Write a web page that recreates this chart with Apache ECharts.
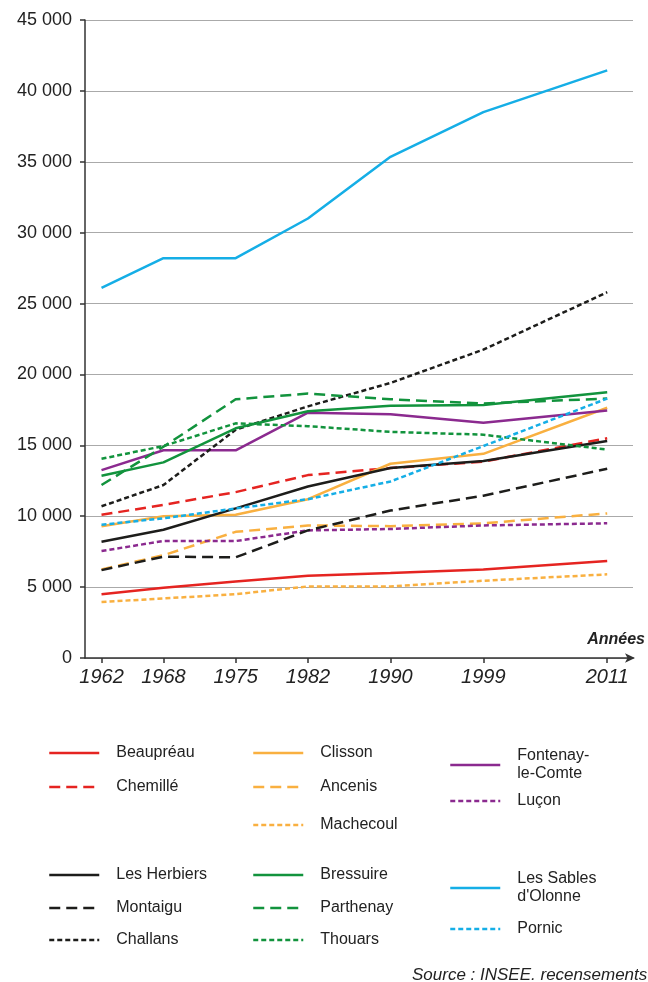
<!DOCTYPE html>
<html>
<head>
<meta charset="utf-8">
<script src="https://cdn.jsdelivr.net/npm/echarts@6/dist/echarts.min.js"></script>
<style>
html,body{margin:0;padding:0;background:#fff;}
#c{width:648px;height:982px;}
</style>
</head>
<body>
<div id="c"></div>
<script>
// ---- data ----
var years = [1962, 1968, 1975, 1982, 1990, 1999, 2011];
var yTicks = [0, 5000, 10000, 15000, 20000, 25000, 30000, 35000, 40000, 45000];

var beaupreau = [4500, 4950, 5400, 5800, 6000, 6250, 6850];
var chemille  = [10100, 10800, 11700, 12900, 13400, 13850, 15500];
var clisson   = [9300, 10000, 10100, 11200, 13700, 14400, 17650];
var ancenis   = [6250, 7250, 8900, 9350, 9300, 9500, 10200];
var machecoul = [3950, 4200, 4500, 5050, 5050, 5450, 5900];
var fontenay  = [13250, 14650, 14650, 17300, 17200, 16600, 17450];
var lucon     = [7550, 8250, 8250, 9000, 9100, 9350, 9500];
var herbiers  = [8200, 9050, 10550, 12100, 13400, 13900, 15300];
var montaigu  = [6200, 7150, 7100, 9000, 10400, 11450, 13350];
var challans  = [10700, 12200, 16100, 17750, 19400, 21750, 25800];
var bressuire = [12850, 13800, 16200, 17400, 17800, 17850, 18750];
var parthenay = [12200, 14900, 18250, 18650, 18250, 17950, 18300];
var thouars   = [14050, 14950, 16550, 16350, 15950, 15750, 14700];
var sables    = [26100, 28200, 28200, 31000, 35350, 38500, 41450];
var pornic    = [9400, 9850, 10550, 11200, 12450, 14950, 18300];

// ---- styles ----
var RED = '#e52421', ORANGE = '#f9b040', PURPLE = '#8b2a8f',
    BLACK = '#1d1d1b', GREEN = '#12933d', BLUE = '#15aee6';
var SOLID = 'solid', DASH = [11, 6], DOT = [5, 3];

var seriesDefs = [
  {name: 'Beaupréau', data: beaupreau, color: RED, type: SOLID, lx: 48, ly: 753},
  {name: 'Chemillé', data: chemille, color: RED, type: DASH, lx: 48, ly: 787},
  {name: 'Clisson', data: clisson, color: ORANGE, type: SOLID, lx: 252, ly: 753},
  {name: 'Ancenis', data: ancenis, color: ORANGE, type: DASH, lx: 252, ly: 787},
  {name: 'Machecoul', data: machecoul, color: ORANGE, type: DOT, lx: 252, ly: 825},
  {name: 'Fontenay-\nle-Comte', data: fontenay, color: PURPLE, type: SOLID, lx: 449, ly: 765},
  {name: 'Luçon', data: lucon, color: PURPLE, type: DOT, lx: 449, ly: 801},
  {name: 'Les Herbiers', data: herbiers, color: BLACK, type: SOLID, lx: 48, ly: 875},
  {name: 'Montaigu', data: montaigu, color: BLACK, type: DASH, lx: 48, ly: 908},
  {name: 'Challans', data: challans, color: BLACK, type: DOT, lx: 48, ly: 940},
  {name: 'Bressuire', data: bressuire, color: GREEN, type: SOLID, lx: 252, ly: 875},
  {name: 'Parthenay', data: parthenay, color: GREEN, type: DASH, lx: 252, ly: 908},
  {name: 'Thouars', data: thouars, color: GREEN, type: DOT, lx: 252, ly: 940},
  {name: 'Les Sables\nd\'Olonne', data: sables, color: BLUE, type: SOLID, lx: 449, ly: 888},
  {name: 'Pornic', data: pornic, color: BLUE, type: DOT, lx: 449, ly: 929}
];

var FONT = '"Liberation Sans", Arial, sans-serif';

var series = seriesDefs.map(function (d) {
  return {
    name: d.name,
    type: 'line',
    symbol: 'none',
    animation: false,
    data: years.map(function (y, i) { return [y, d.data[i]]; }),
    lineStyle: {color: d.color, width: 2.5, type: d.type},
    itemStyle: {color: d.color}
  };
});

var legends = seriesDefs.map(function (d) {
  var twoLines = d.name.indexOf('\n') >= 0;
  return {
    data: [{name: d.name}],
    left: d.lx,
    top: d.ly - (twoLines ? 18 : 9),
    orient: 'vertical',
    padding: 0,
    itemWidth: 50,
    itemHeight: 14,
    selectedMode: false,
    itemStyle: {opacity: 0},
    lineStyle: {width: 2.5},
    textStyle: {fontFamily: FONT, fontSize: 16, color: '#222', lineHeight: 18, padding: [0, 0, 0, 12]}
  };
});

var chart = echarts.init(document.getElementById('c'), null, {renderer: 'canvas'});
chart.setOption({
  backgroundColor: '#fff',
  animation: false,
  grid: {left: 85, right: 15, top: 20, bottom: 324, outerBoundsMode: 'none'},
  xAxis: {
    type: 'value',
    min: 1960.4,
    max: 2013.5,
    splitLine: {show: false},
    axisLine: {show: true, lineStyle: {color: '#333', width: 1.5}, symbol: ['none', 'arrow'], symbolSize: [7, 10], symbolOffset: [0, 2]},
    axisTick: {show: true, customValues: years, length: 5, lineStyle: {color: '#333', width: 1.5}},
    axisLabel: {customValues: years, formatter: function (v) { return String(v); },
      fontFamily: FONT, fontStyle: 'italic', fontSize: 20, color: '#222', margin: 9}
  },
  yAxis: {
    type: 'value',
    min: 0,
    max: 45000,
    interval: 5000,
    axisLine: {show: true, lineStyle: {color: '#333', width: 1.5}},
    axisTick: {show: true, inside: false, length: 5, lineStyle: {color: '#333', width: 1.5}},
    splitLine: {show: true, lineStyle: {color: '#aaaaaa', width: 1}},
    axisLabel: {
      fontFamily: FONT, fontSize: 18, color: '#222', margin: 13,
      formatter: function (v) {
        var s = String(v);
        if (v >= 1000) s = s.slice(0, s.length - 3) + ' ' + s.slice(s.length - 3);
        return s;
      }
    }
  },
  legend: legends,
  graphic: [
    {type: 'text', right: 3, top: 632, style: {text: 'Années', font: 'italic bold 16px ' + FONT, fill: '#222'}},
    {type: 'text', left: 412, top: 967, style: {text: 'Source : INSEE. recensements', font: 'italic 17px ' + FONT, fill: '#222'}}
  ],
  series: series
});
</script>
</body>
</html>
